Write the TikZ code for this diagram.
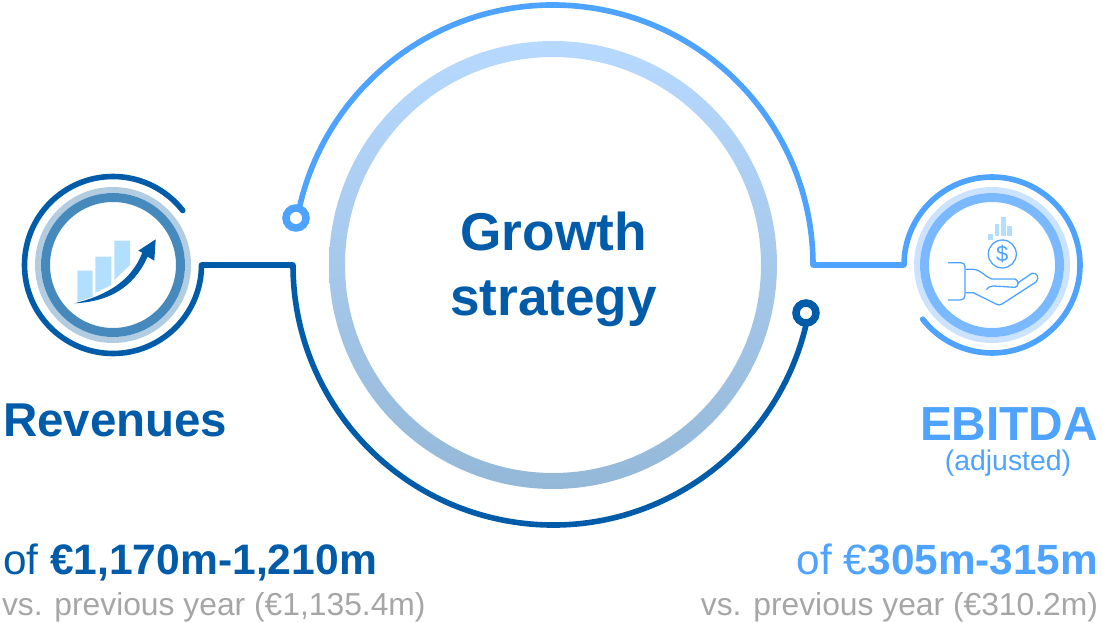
\documentclass[tikz,border=0pt]{standalone}
\usepackage{fontspec}
\setmainfont{Liberation Sans}
\definecolor{dk}{HTML}{005CA9}
\definecolor{lb}{HTML}{4DA3FF}
\definecolor{gr}{HTML}{A6A6A6}
\definecolor{barb}{HTML}{B3DFFF}
\definecolor{ringtop}{HTML}{B8D9FF}
\definecolor{ringbot}{HTML}{94B8D8}
\definecolor{lro}{HTML}{B2CDE2}
\definecolor{lri}{HTML}{4589BD}
\definecolor{rro}{HTML}{CCE3FF}
\definecolor{rri}{HTML}{7AB8FF}
\tikzset{
  x=1pt,y=1pt,
  darkline/.style={draw=dk,line width=5.6pt,line cap=round,line join=round},
  lightline/.style={draw=lb,line width=5.6pt,line cap=round,line join=round},
  thinicon/.style={draw=lb,line width=1.3pt,line cap=round,line join=round},
  terminal/.style={circle,fill=white,line width=7.5pt,minimum size=20pt,inner sep=0pt},
  lab/.style={inner sep=0pt,outer sep=0pt},
}
\begin{document}
\begin{tikzpicture}
\useasboundingbox (0,0) rectangle (1103,622);
\coordinate (big) at (553,357);
\coordinate (lc) at (113,357);
\coordinate (rc) at (992,357);
% big ring with vertical gradient
\shade[top color=ringtop,bottom color=ringbot,even odd rule] (big) circle[radius=224] (big) circle[radius=208];
\coordinate (bs) at ([shift={(169.6:260)}]big);
\coordinate (de) at ([shift={(-10.5:260)}]big);
\coordinate (rs) at ([shift={(180:88)}]rc);
\coordinate (ls) at ([shift={(0:88.5)}]lc);
\draw[lightline] (bs) arc[start angle=169.6,end angle=0,radius=260] -- (rs) arc[start angle=180,end angle=-142,radius=88];
\draw[darkline] (de) arc[start angle=-10.5,end angle=-180,radius=260] -- (ls) arc[start angle=0,end angle=-322,radius=88.5];
\node[terminal,draw=lb] (t1) at (296,404) {};
\node[terminal,draw=dk] (t2) at (806,309) {};
% small rings
\draw[draw=lro,line width=6pt] (lc) circle[radius=75];
\draw[draw=lri,line width=9pt] (lc) circle[radius=67.5];
\draw[draw=rro,line width=6pt] (rc) circle[radius=75];
\draw[draw=rri,line width=9pt] (rc) circle[radius=67.5];
% chart icon
\fill[barb] (77.3,351.3) -- (92.7,351.3) -- (92.7,325.3) -- (77.3,320.3) -- cycle;
\fill[barb] (95.3,365.3) -- (111.3,365.3) -- (111.3,337) -- (95.3,329.3) -- cycle;
\fill[barb] (114.3,381.3) -- (130,381.3) -- (130,357) -- (114.3,342) -- cycle;
\fill[dk] (74.3,318.7) .. controls (108.3,327) and (131.7,342) .. (142.3,369.3) -- (138.3,371.3) -- (155.7,382.7) -- (154.3,361.3) -- (147.7,365.3) .. controls (133.3,333.7) and (108.3,320.3) .. (74.3,318.7) -- cycle;
% money icon
\node[circle,draw=lb,line width=1.3pt,minimum size=28pt,inner sep=0pt,font=\fontsize{22}{22}\selectfont,text=lb] (coin) at (1002.3,368) {\$};
\fill[barb] (988,382) rectangle (992.7,388);
\fill[barb] (994.7,386) rectangle (999.3,398);
\fill[barb] (1001,386) rectangle (1005.7,404.7);
\fill[barb] (1007.3,386) rectangle (1012,396);
\draw[thinicon] (948.3,359.3) -- (960.7,359.3) .. controls (963.5,359.3) and (965,358) .. (965,355.3) -- (965,327) .. controls (965,324) and (963.5,322) .. (960.7,322) -- (948.3,322);
\draw[thinicon] (966,352.7) -- (973,352.7) .. controls (982,352) and (985,345) .. (991.7,343) -- (1015,343) .. controls (1019,342) and (1019,335) .. (1015,334.7) -- (993.3,336) .. controls (990,336) and (987.5,334.5) .. (986.7,332.7);
\draw[thinicon] (966,329.3) -- (973.3,329.3) -- (996,318) .. controls (998,317) and (1000,316.5) .. (1002,318) -- (1036,340) .. controls (1040,344) and (1037,350) .. (1032,348.7) -- (1017.3,338.7);
% labels
\node[lab,text=dk,font=\bfseries\fontsize{53.2}{65}\selectfont,align=center] (title) at (553.5,352.5) {Growth\\strategy};
\node[lab,text=dk,font=\bfseries\fontsize{47.5}{50}\selectfont,anchor=base west] (rev) at (3,186) {Revenues};
\node[lab,text=lb,font=\bfseries\fontsize{47.8}{50}\selectfont,anchor=base east] (ebi) at (1098,182) {EBITDA};
\node[lab,text=lb,font=\fontsize{28.4}{30}\selectfont] (adj) at (1008,159) {(adjusted)};
\node[lab,text=dk,font=\fontsize{42.3}{44}\selectfont,anchor=base west] (o1) at (3,48) {of \fontsize{42.6}{44}\selectfont\textbf{€1,170m-1,210m}};
\node[lab,text=lb,font=\fontsize{42.3}{44}\selectfont,anchor=base east] (o2) at (1098,48) {of €\textbf{305m-315m}};
\node[lab,text=gr,font=\fontsize{31.8}{32}\selectfont,anchor=base west] (v1) at (2,7) {vs. previous year (€1,135.4m)};
\node[lab,text=gr,font=\fontsize{31.8}{32}\selectfont,anchor=base east] (v2) at (1098,7) {vs. previous year (€310.2m)};
\end{tikzpicture}
\end{document}
